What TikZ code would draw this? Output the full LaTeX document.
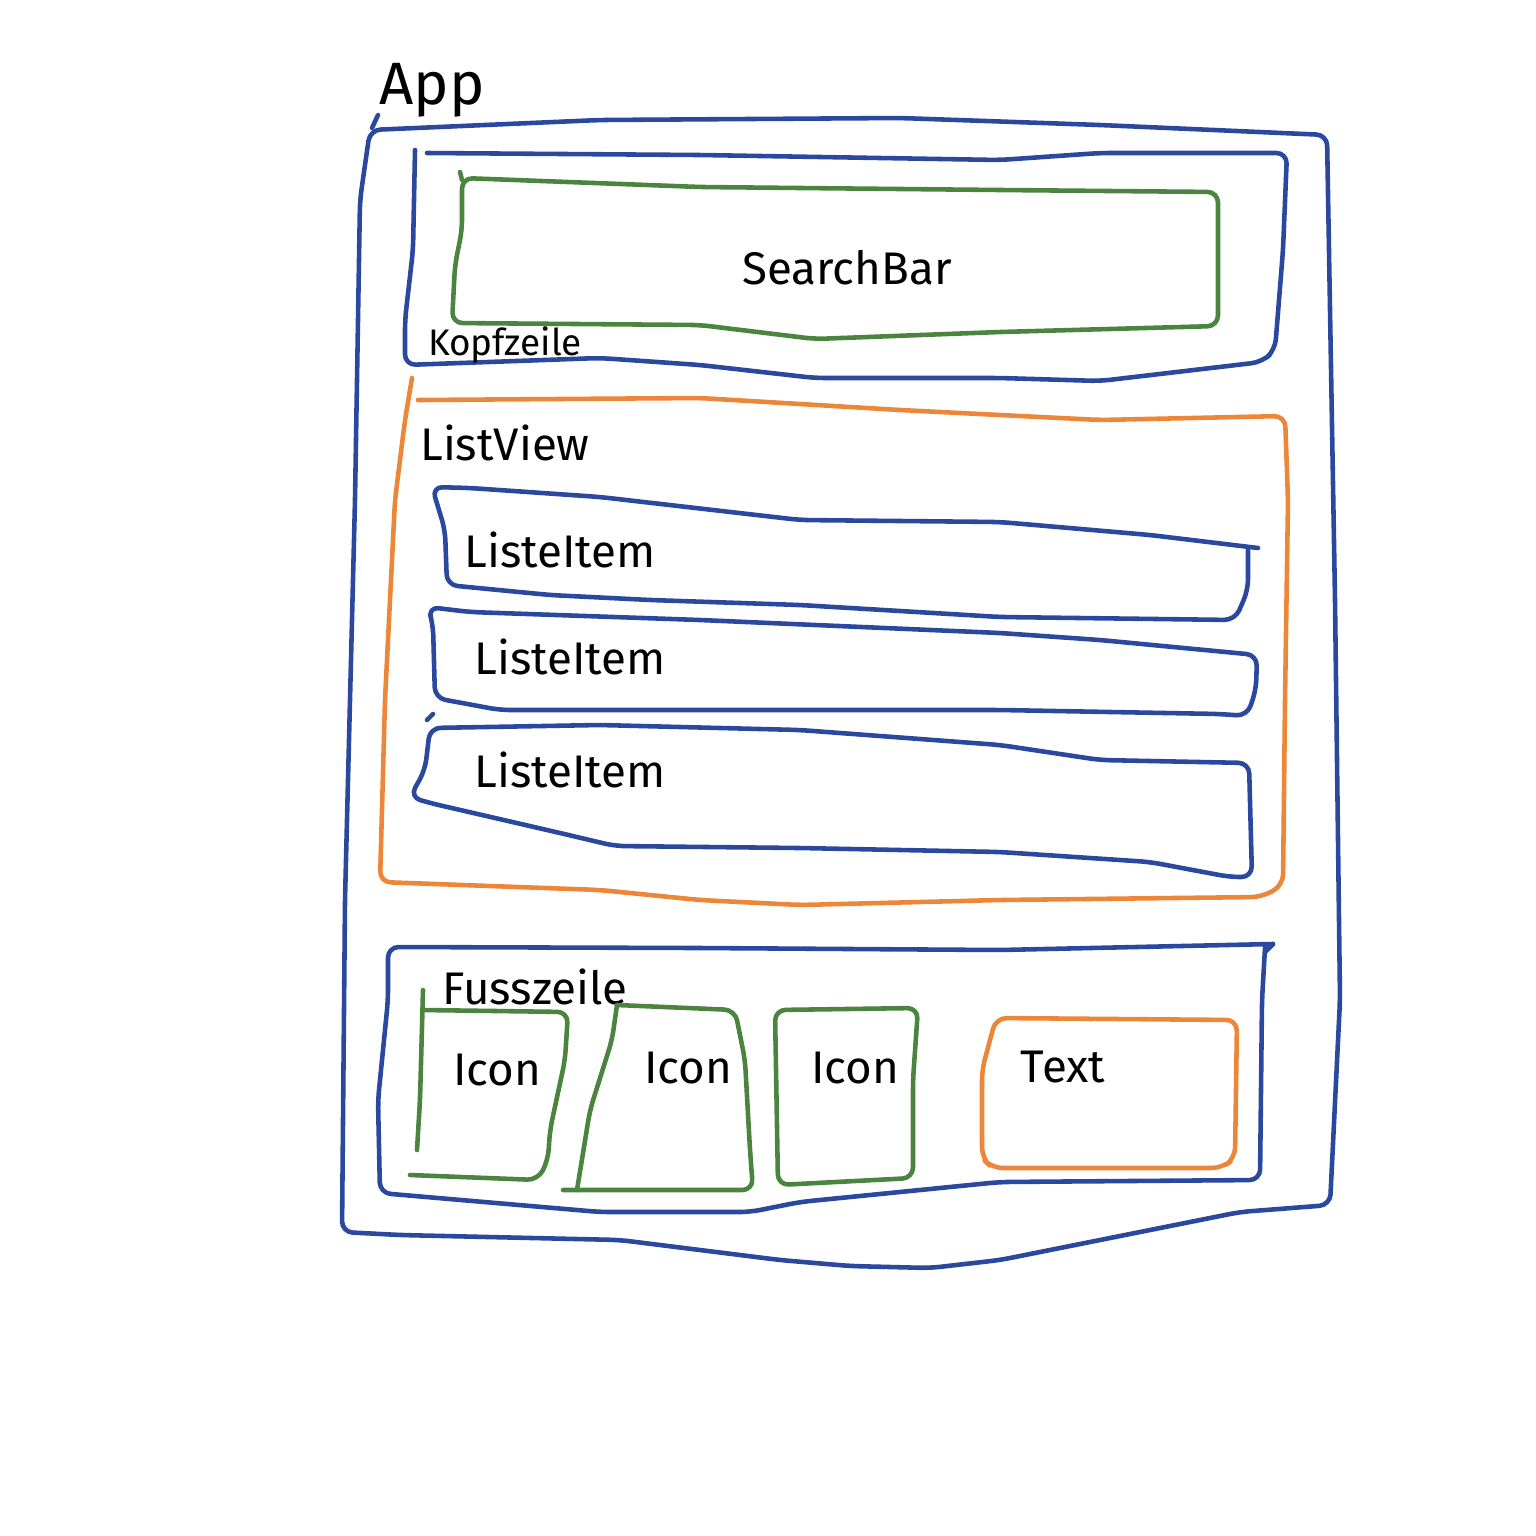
\documentclass[tikz,border=0pt]{standalone}
\usepackage{fontspec}
\setmainfont{Fira Sans}
\definecolor{appblue}{RGB}{42, 72, 158}
\definecolor{boxgreen}{RGB}{74, 132, 62}
\definecolor{listorange}{RGB}{236, 134, 56}
\usetikzlibrary{positioning}

\begin{document}
\begin{tikzpicture}[
  x=0.01cm, y=-0.01cm,
  pen/.style={line width=1.3pt, line join=round, line cap=round, rounded corners=3pt},
  blu/.style={pen, appblue},
  grn/.style={pen, boxgreen},
  org/.style={pen, listorange},
  lbl/.style={font=\fontsize{13}{15}\selectfont, inner sep=0pt},
]
\useasboundingbox (0,0) rectangle (1536,1536);

% App
\draw[blu] (378,115) -- (372,128);
\draw[blu] (370,130) -- (600,120) -- (900,118) -- (1100,125) -- (1327,135)
  -- (1335,600) -- (1340,1000) -- (1330,1205)
  -- (1240,1212) -- (1100,1240) -- (1000,1260) -- (930,1268) -- (850,1266) -- (780,1260)
  -- (700,1250) -- (620,1240) -- (400,1235) -- (342,1232)
  -- (345,900) -- (355,500) -- (360,200) -- cycle;
\node[lbl, font=\fontsize{17}{19}\selectfont] (app) at (432,90) {App};

% Kopfzeile
\draw[blu] (415,150) -- (413,250) -- (405,320) -- (405,365) -- (600,358) -- (700,365)
  -- (815,378) -- (1000,378) -- (1100,381) -- (1262,362) -- (1275,350) -- (1283,250) -- (1287,153)
  -- (1100,153) -- (1000,160) -- (700,155) -- (427,153);
\draw[grn] (460,172) -- (462,180);
\draw[grn] (462,178) -- (700,187) -- (1000,190) -- (1218,192) -- (1218,326)
  -- (1000,332) -- (815,339) -- (700,325) -- (452,323) -- (455,265) -- (462,230) -- cycle;
\node[lbl] (search) at (847,268) {SearchBar};
\node[lbl, font=\fontsize{10.5}{12}\selectfont] (kopf) at (505,345) {Kopfzeile};

% ListView
\draw[org] (412,378) -- (405,420) -- (395,500) -- (385,700) -- (380,882) -- (600,890)
  -- (700,900) -- (800,905) -- (1000,900) -- (1262,897) -- (1283,885) -- (1285,700)
  -- (1288,500) -- (1285,416) -- (1100,420) -- (900,410) -- (700,398) -- (418,400);
\node[lbl] (listview) at (505,443) {ListView};

% ListeItem 1
\draw[blu] (1248,550) -- (1248,590) -- (1235,620) -- (1000,617) -- (800,605)
  -- (650,600) -- (550,595) -- (447,585) -- (445,530) -- (432,487) -- (470,488)
  -- (600,497) -- (800,520) -- (1000,522) -- (1150,535) -- (1258,548);
\node[lbl] (item1) at (560,550) {ListeItem};

% ListeItem 2
\draw[blu] (428,607) -- (470,612) -- (700,620) -- (1000,633) -- (1100,640) -- (1257,655)
  -- (1256,690) -- (1247,716) -- (1220,714) -- (1000,710) -- (700,710) -- (500,710)
  -- (435,698) -- (433,625) -- cycle;
\node[lbl] (item2) at (570,657) {ListeItem};

% ListeItem 3
\draw[blu] (433,714) -- (427,720);
\draw[blu] (430,728) -- (600,725) -- (800,730) -- (1000,745)
  -- (1100,760) -- (1249,763) -- (1252,877) -- (1230,877) -- (1150,862)
  -- (1000,852) -- (800,848) -- (615,846) -- (560,833) -- (430,803) -- (410,797)
  -- (425,770) -- cycle;
\node[lbl] (item3) at (570,770) {ListeItem};

% Fusszeile
\draw[blu] (1273,944) -- (1265,952);
\draw[blu] (1265,948) -- (1262,1000) -- (1260,1180) -- (1000,1182) -- (800,1202)
  -- (750,1212) -- (600,1212) -- (380,1193) -- (378,1100) -- (388,1000) -- (388,947)
  -- (700,948) -- (1000,950) -- (1273,944);
\node[lbl] (fuss) at (535,987) {Fusszeile};

% Icons
\draw[grn] (423,990) -- (420,1100) -- (417,1150);
\draw[grn] (422,1010) -- (568,1012) -- (565,1060) -- (550,1130) -- (548,1160) -- (538,1180) -- (410,1175);
\draw[grn] (617,1005) -- (735,1010) -- (745,1060) -- (750,1150) -- (753,1190) -- (563,1190);
\draw[grn] (617,1005) -- (612,1040) -- (590,1110) -- (577,1190);
\draw[grn] (775,1010) -- (918,1008) -- (913,1080) -- (913,1178) -- (778,1185) -- cycle;
\node[lbl] (icon1) at (497,1070) {Icon};
\node[lbl] (icon2) at (688,1068) {Icon};
\node[lbl] (icon3) at (855,1068) {Icon};

% Text
\draw[org] (996,1018) -- (1237,1020) -- (1235,1158) -- (1222,1168) -- (992,1168)
  -- (982,1158) -- (982,1070) -- (990,1040) -- cycle;
\node[lbl] (txt) at (1063,1067) {Text};
\end{tikzpicture}
\end{document}
